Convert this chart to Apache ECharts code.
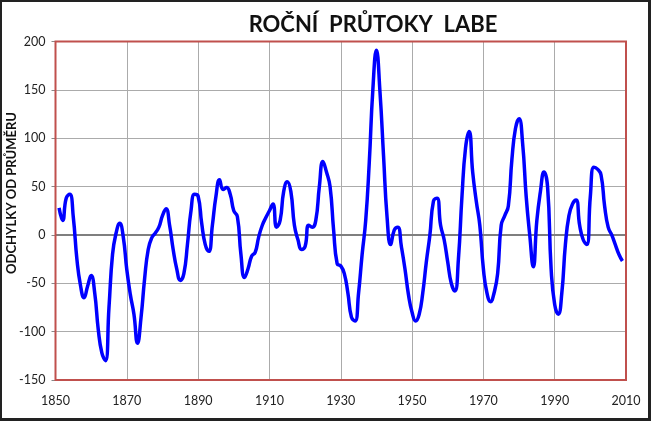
<!DOCTYPE html>
<html>
<head>
<meta charset="utf-8">
<script src="https://cdn.jsdelivr.net/npm/echarts@6/dist/echarts.min.js"></script>
<style>
html,body{margin:0;padding:0;background:#fff;}
#frame{position:absolute;left:0;top:0;width:651px;height:421px;box-sizing:border-box;border:2px solid #222;border-right-width:3px;border-bottom-width:3px;}
#chart{position:absolute;left:0;top:0;width:651px;height:421px;}
</style>
</head>
<body>
<div id="chart"></div>
<div id="frame"></div>
<script>
const titleText = 'ROČNÍ  PRŮTOKY  LABE';
const yAxisTitle = 'ODCHYLKY OD PRŮMĚRU';
const years = [];
for (let y = 1851; y <= 2009; y++) years.push(y);
const values = [
  28, 15, 38, 42, 18, -25, -52, -65, -53, -42,           // 1851-1860
  -60, -98, -122, -130, -75, -20, 2, 12, -2, -36,        // 1861-1870
  -62, -82, -112, -85, -45, -15, -3, 2, 8, 20,           // 1871-1880
  27, 10, -15, -35, -47, -40, -10, 25, 42, 40,           // 1881-1890
  12, -10, -17, 10, 40, 57, 47, 49, 42, 25,              // 1891-1900
  19, -20, -44, -35, -22, -18, -2, 10, 18, 25,           // 1901-1910
  32, 8, 15, 45, 55, 45, 10, -5, -15, -12,               // 1911-1920
  10, 8, 15, 50, 76, 65, 50, 5, -30, -32,                // 1921-1930
  -40, -60, -85, -89, -60, -20, 15, 75, 150, 191,        // 1931-1940
  148, 82, 18, -10, 5, 8, -12, -35, -62, -80,            // 1941-1950
  -89, -82, -60, -28, 0, 35, 38, 10, -5, -28,            // 1951-1960
  -50, -58, -25, 40, 90, 107, 65, 35, 10, -35,           // 1961-1970
  -60, -69, -60, -40, 10, 20, 30, 78, 110, 120,          // 1971-1980
  95, 40, 0, -33, 15, 45, 65, 50, -35, -72,              // 1981-1990
  -82, -60, -10, 20, 32, 36, 10, -5, -10, 40,            // 1991-2000
  70, 68, 62, 30, 8, 0, -10, -20, -27                    // 2001-2009
];
const xTicks = [1850, 1870, 1890, 1910, 1930, 1950, 1970, 1990, 2010];
const yTicks = [-150, -100, -50, 0, 50, 100, 150, 200];

const chart = echarts.init(document.getElementById('chart'), null, {renderer: 'canvas'});
const labelFont = {fontFamily: 'Lato', fontSize: 12.5, color: '#222'};
chart.setOption({
  animation: false,
  backgroundColor: '#fff',
  title: {
    text: titleText,
    left: 368, top: 9, textAlign: 'center',
    textStyle: {fontFamily: 'Lato', fontWeight: 'bold', fontSize: 22, color: '#111'}
  },
  graphic: [{
    type: 'text',
    x: 12, y: 193,
    rotation: Math.PI / 2,
    style: {
      text: yAxisTitle, fontFamily: 'Lato', fontWeight: 'bold', fontSize: 13,
      fill: '#111', textAlign: 'center', textVerticalAlign: 'middle'
    }
  }],
  grid: {
    left: 55.5, right: 25, top: 41.5, bottom: 41,
    show: true, borderColor: '#c0504d', borderWidth: 2, backgroundColor: 'transparent', z: 10
  },
  xAxis: {
    type: 'value', min: xTicks[0], max: xTicks[xTicks.length - 1], interval: 20,
    axisLine: {show: false},
    axisTick: {show: false},
    axisLabel: Object.assign({margin: 14, formatter: v => String(v)}, labelFont),
    splitLine: {show: true, lineStyle: {color: '#ababab', width: 1}}
  },
  yAxis: {
    type: 'value', min: yTicks[0], max: yTicks[yTicks.length - 1], interval: 50,
    axisLine: {show: false},
    axisTick: {show: true, length: 4, lineStyle: {color: '#888'}},
    axisLabel: Object.assign({margin: 10, formatter: v => String(v)}, labelFont),
    splitLine: {show: true, lineStyle: {color: '#ababab', width: 1}}
  },
  series: [{
    type: 'line',
    data: years.map((y, i) => [y, values[i]]),
    smooth: 0.5,
    showSymbol: false,
    lineStyle: {color: '#0000ff', width: 3.5},
    z: 5,
    markLine: {
      silent: true, symbol: 'none', label: {show: false},
      lineStyle: {color: '#7f7f7f', width: 2, type: 'solid'},
      data: [{yAxis: 0}], z: 3
    }
  }]
});
</script>
</body>
</html>
